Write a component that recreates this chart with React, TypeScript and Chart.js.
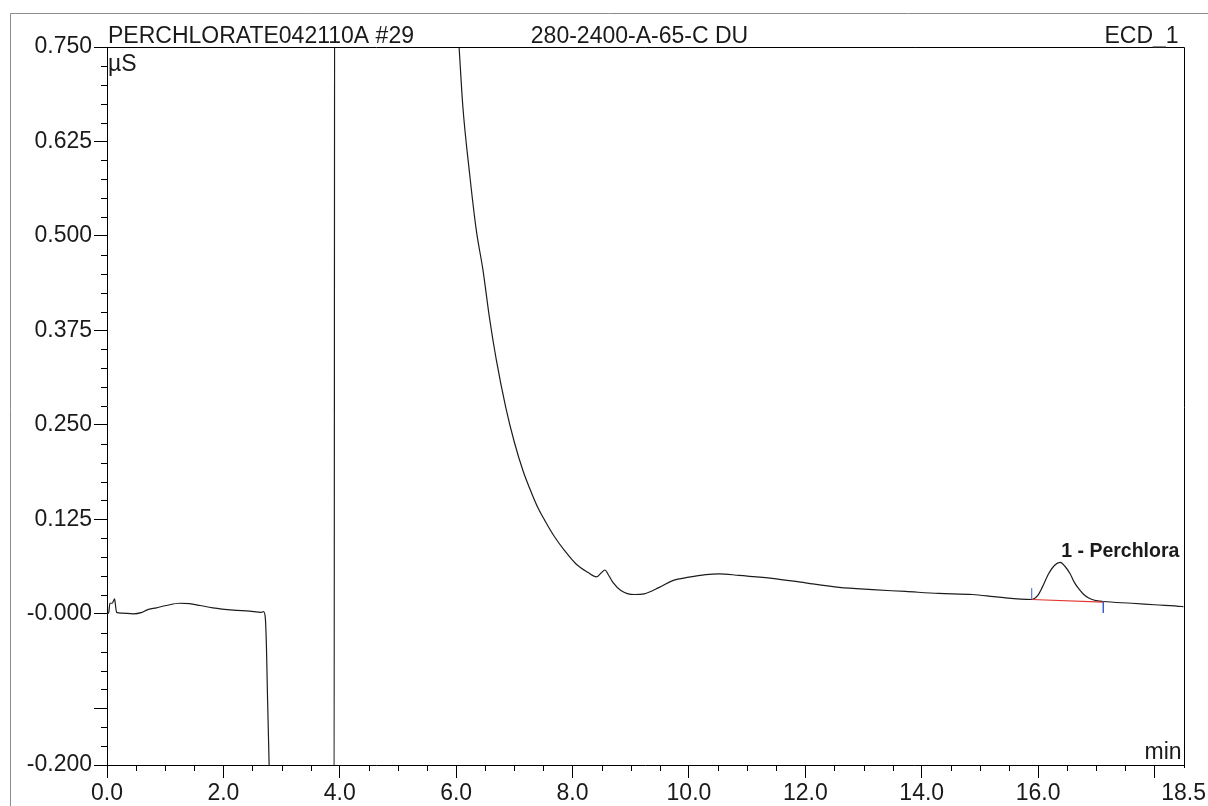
import React, { useEffect, useRef } from 'react';
import { Chart, registerables } from 'chart.js';

Chart.register(...registerables);

// ---- Data ----
const retentionTimes = [
  0.0, 0.03, 0.05, 0.09, 0.13, 0.145, 0.165, 0.25, 0.45, 0.6, 0.68, 0.85, 1.02, 1.25, 1.42, 1.6, 1.82,
  2.17, 2.45, 2.65, 2.69, 2.72, 2.74, 2.757, 2.786, 2.82, 3.902, 3.914, 5.9, 6.0, 6.05, 6.115, 6.23,
  6.345, 6.46, 6.57, 6.69, 6.85, 7.0, 7.15, 7.3, 7.42, 7.52, 7.69, 7.86, 8.06, 8.26, 8.415, 8.49,
  8.555, 8.62, 8.69, 8.83, 9.06, 9.23, 9.49, 9.72, 10.0, 10.29, 10.52, 10.86, 11.43, 12.0, 12.58,
  13.15, 13.72, 14.29, 14.87, 15.32, 15.89, 15.99, 16.07, 16.18, 16.28, 16.38, 16.46, 16.55, 16.62,
  16.7, 16.78, 16.87, 16.97, 17.12, 17.61, 18.0, 18.47, 18.5,
];
const signalValues = [
  0.0, 0.002, 0.014, 0.014, 0.02, 0.012, 0.002, 0.001, 0.0, 0.002, 0.005, 0.008, 0.011, 0.014, 0.0135,
  0.011, 0.008, 0.005, 0.0035, 0.002, 0.003, -0.005, -0.044, -0.106, -0.2, -0.3, -0.3, 1.1, 0.95,
  0.81, 0.75, 0.671, 0.583, 0.508, 0.455, 0.393, 0.336, 0.274, 0.227, 0.189, 0.159, 0.138, 0.124,
  0.102, 0.084, 0.066, 0.055, 0.049, 0.054, 0.058, 0.051, 0.042, 0.031, 0.0256, 0.0265, 0.035, 0.044,
  0.0486, 0.052, 0.053, 0.0508, 0.047, 0.041, 0.035, 0.032, 0.0296, 0.027, 0.0256, 0.022, 0.019,
  0.024, 0.035, 0.053, 0.064, 0.068, 0.063, 0.053, 0.042, 0.033, 0.026, 0.021, 0.018, 0.0163, 0.014,
  0.012, 0.0097, 0.0095,
];

// integration baseline of peak 1 and its delimiters
const baselineTimes = [15.89, 17.12];
const baselineValues = [0.019, 0.0155];
const peakStartTimes = [15.89, 15.89];
const peakStartValues = [0.019, 0.034];
const peakEndTimes = [17.12, 17.12];
const peakEndValues = [0.0163, 0.0013];

const peakLabel = '1 - Perchlora';
const peakLabelTime = 16.38;
const peakLabelValue = 0.075;

// axes
const xMajorTicks = [0, 2, 4, 6, 8, 10, 12, 14, 16, 18, 18.5];
const xTickLabels = ['0.0', '2.0', '4.0', '6.0', '8.0', '10.0', '12.0', '14.0', '16.0', '', '18.5'];
const yMajorTicks = [-0.2, -0.125, 0, 0.125, 0.25, 0.375, 0.5, 0.625, 0.75];
const yTickLabels = ['-0.200', '', '-0.000', '0.125', '0.250', '0.375', '0.500', '0.625', '0.750'];
const xMinorStep = 0.5;
const yMinorStep = 0.025;

const headerLeft = 'PERCHLORATE042110A #29';
const headerMiddle = '280-2400-A-65-C DU';
const headerRight = 'ECD_1';
const yUnit = 'µS';
const xUnit = 'min';

const FONT = "'Liberation Sans', Arial, Helvetica, sans-serif";
const TEXT = '#1a1a1a';
const FONT_SIZE = 23;

const decorPlugin = {
  id: 'decor',
  afterDraw(chart: any) {
    const { ctx, chartArea: a, scales } = chart;
    const x = scales.x;
    const y = scales.y;
    ctx.save();
    // outer frame
    ctx.strokeStyle = '#8c8c8c';
    ctx.lineWidth = 1;
    ctx.beginPath();
    ctx.moveTo(10.5, 806);
    ctx.lineTo(10.5, 13.5);
    ctx.lineTo(1208, 13.5);
    ctx.stroke();

    // plot box top and right
    ctx.strokeStyle = '#000';
    const top = Math.round(a.top) + 0.5;
    const right = Math.round(a.right) + 0.5;
    ctx.beginPath();
    ctx.moveTo(Math.round(a.left), top);
    ctx.lineTo(right, top);
    ctx.lineTo(right, a.bottom + 3);
    ctx.stroke();

    // minor ticks
    ctx.beginPath();
    const ny = Math.round((y.max - y.min) / yMinorStep);
    for (let i = 0; i <= ny; i++) {
      const v = y.min + i * yMinorStep;
      if (yMajorTicks.some((m) => Math.abs(m - v) < 1e-6)) continue;
      const py = Math.round(y.getPixelForValue(v)) + 0.5;
      ctx.moveTo(a.left - 6, py);
      ctx.lineTo(a.left, py);
    }
    const nx = Math.round((x.max - x.min) / xMinorStep);
    for (let i = 0; i <= nx; i++) {
      const v = x.min + i * xMinorStep;
      if (xMajorTicks.some((m) => Math.abs(m - v) < 1e-6)) continue;
      const px = Math.round(x.getPixelForValue(v)) + 0.5;
      ctx.moveTo(px, a.bottom);
      ctx.lineTo(px, a.bottom + 6);
    }
    ctx.stroke();

    // header texts
    ctx.fillStyle = TEXT;
    ctx.font = `${FONT_SIZE}px ${FONT}`;
    ctx.textBaseline = 'alphabetic';
    ctx.textAlign = 'left';
    ctx.fillText(headerLeft, a.left + 1, a.top - 4);
    ctx.fillText(headerMiddle, x.getPixelForValue(7.3) - 1, a.top - 4);
    ctx.textAlign = 'right';
    ctx.fillText(headerRight, a.right - 5, a.top - 4);

    // units
    ctx.textAlign = 'left';
    ctx.fillText(yUnit, a.left + 1, a.top + 24);
    ctx.textAlign = 'right';
    ctx.fillText(xUnit, a.right - 2, a.bottom - 6);

    // peak label
    ctx.font = `bold 19.5px ${FONT}`;
    ctx.textAlign = 'left';
    ctx.fillText(peakLabel, x.getPixelForValue(peakLabelTime) + 1, y.getPixelForValue(peakLabelValue));
    ctx.restore();
  },
};

const toPoints = (xs: number[], ys: number[]) => xs.map((t, i) => ({ x: t, y: ys[i] }));

export default function App() {
  const canvasRef = useRef<HTMLCanvasElement | null>(null);

  useEffect(() => {
    document.body.style.margin = '0';
    const canvas = canvasRef.current;
    if (!canvas) return;
    const chart = new Chart(canvas, {
      type: 'line',
      data: {
        datasets: [
          {
            label: 'start',
            data: toPoints(peakStartTimes, peakStartValues),
            borderColor: '#3b5fc9',
            borderWidth: 1,
            pointRadius: 0,
            clip: 0,
          },
          {
            label: 'end',
            data: toPoints(peakEndTimes, peakEndValues),
            borderColor: '#3b5fc9',
            borderWidth: 1,
            pointRadius: 0,
            clip: 0,
          },
          {
            label: 'baseline',
            data: toPoints(baselineTimes, baselineValues),
            borderColor: '#e2352e',
            borderWidth: 1.2,
            pointRadius: 0,
            clip: 0,
          },
          {
            label: 'ECD_1',
            data: toPoints(retentionTimes, signalValues),
            borderColor: '#1c1c1c',
            borderWidth: 1.2,
            pointRadius: 0,
            cubicInterpolationMode: 'monotone',
            clip: 0,
          },
        ],
      } as any,
      options: {
        responsive: false,
        animation: false,
        devicePixelRatio: 1,
        layout: { padding: { left: 10, top: 47, right: 24, bottom: 0 } },
        plugins: { legend: { display: false }, tooltip: { enabled: false }, title: { display: false } },
        scales: {
          x: {
            type: 'linear',
            min: 0,
            max: 18.5,
            afterBuildTicks: (s: any) => {
              s.ticks = xMajorTicks.map((v) => ({ value: v }));
            },
            afterFit: (s: any) => {
              s.height = 41;
            },
            ticks: {
              autoSkip: false,
              maxRotation: 0,
              padding: 2,
              color: TEXT,
              font: { family: FONT, size: FONT_SIZE },
              callback: (v: any) => xTickLabels[xMajorTicks.indexOf(Number(v))] ?? '',
            },
            grid: {
              drawOnChartArea: false,
              tickLength: 13,
              tickColor: (c: any) => (c.tick && c.tick.value === 18.5 ? 'rgba(0,0,0,0)' : '#000'),
            },
            border: { color: '#000', width: 1 },
          },
          y: {
            type: 'linear',
            min: -0.2,
            max: 0.75,
            afterBuildTicks: (s: any) => {
              s.ticks = yMajorTicks.map((v) => ({ value: v }));
            },
            afterFit: (s: any) => {
              s.width = 97;
            },
            ticks: {
              autoSkip: false,
              padding: 2,
              color: TEXT,
              font: { family: FONT, size: FONT_SIZE },
              callback: (v: any) => yTickLabels[yMajorTicks.indexOf(Number(v))] ?? '',
            },
            grid: { drawOnChartArea: false, tickLength: 13, tickColor: '#000' },
            border: { color: '#000', width: 1 },
          },
        },
      },
      plugins: [decorPlugin],
    } as any);
    return () => chart.destroy();
  }, []);

  return (
    <div style={{ position: 'fixed', left: 0, top: 0, width: 1208, height: 806, background: '#fff' }}>
      <canvas ref={canvasRef} width={1208} height={806} style={{ display: 'block' }} />
    </div>
  );
}
